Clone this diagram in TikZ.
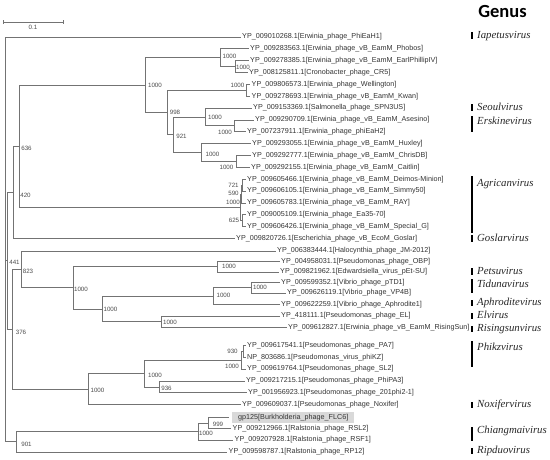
\documentclass[tikz,border=0pt]{standalone}
\usepackage{fontspec}
\setmainfont{Liberation Sans}
\newfontfamily\genusfont{Liberation Serif}
\newfontfamily\titlefont{Carlito}
\usetikzlibrary{arrows.meta}
\tikzset{
  branch/.style={draw=black!55, line width=0.75pt},
  leaf/.style={anchor=west, inner sep=1.5pt, text=black!80, font=\fontsize{7.2}{8}\selectfont},
  boot/.style={inner sep=0pt, text=black!70, font=\fontsize{6.2}{7}\selectfont},
  genusbar/.style={line width=2.8pt, draw=black},
  genuslabel/.style={anchor=mid west, inner sep=0pt, text=black!85, font=\genusfont\itshape\fontsize{10.8}{12}\selectfont},
}

\begin{document}
\begin{tikzpicture}[x=1pt, y=-1pt]
  \useasboundingbox (0,0) rectangle (550,459);

  % scale bar
  \coordinate (sbL) at (3.3,22);
  \coordinate (sbR) at (63.3,22);
  \draw[branch, {Bar[width=4pt]}-{Bar[width=4pt]}] (sbL) -- (sbR);
  \node[boot] (sblabel) at (33,27.5) {0.1};

  % leaves
  \node[leaf] (phieah1)    at (240.5,37)    {YP\_009010268.1[Erwinia\_phage\_PhiEaH1]};
  \node[leaf] (phobos)     at (248.5,48.8)  {YP\_009283563.1[Erwinia\_phage\_vB\_EamM\_Phobos]};
  \node[leaf] (earl)       at (248.5,60.7)  {YP\_009278385.1[Erwinia\_phage\_vB\_EamM\_EarlPhillipIV]};
  \node[leaf] (cr5)        at (247.5,72.5)  {YP\_008125811.1[Cronobacter\_phage\_CR5]};
  \node[leaf] (wellington) at (250,84.4)    {YP\_009806573.1[Erwinia\_phage\_Wellington]};
  \node[leaf] (kwan)       at (250,96.2)    {YP\_009278693.1[Erwinia\_phage\_vB\_EamM\_Kwan]};
  \node[leaf] (spn3us)     at (251.5,108.1) {YP\_009153369.1[Salmonella\_phage\_SPN3US]};
  \node[leaf] (asesino)    at (253.5,119.9) {YP\_009290709.1[Erwinia\_phage\_vB\_EamM\_Asesino]};
  \node[leaf] (phieah2)    at (245.5,131.8) {YP\_007237911.1[Erwinia\_phage\_phiEaH2]};
  \node[leaf] (huxley)     at (250.5,143.6) {YP\_009293055.1[Erwinia\_phage\_vB\_EamM\_Huxley]};
  \node[leaf] (chrisdb)    at (250.5,155.5) {YP\_009292777.1[Erwinia\_phage\_vB\_EamM\_ChrisDB]};
  \node[leaf] (caitlin)    at (249.5,167.3) {YP\_009292155.1[Erwinia\_phage\_vB\_EamM\_Caitlin]};
  \node[leaf] (deimos)     at (245.5,179.2) {YP\_009605466.1[Erwinia\_phage\_vB\_EamM\_Deimos-Minion]};
  \node[leaf] (simmy)      at (245.5,191.0) {YP\_009606105.1[Erwinia\_phage\_vB\_EamM\_Simmy50]};
  \node[leaf] (ray)        at (245.5,202.9) {YP\_009605783.1[Erwinia\_phage\_vB\_EamM\_RAY]};
  \node[leaf] (ea35)       at (245.5,214.7) {YP\_009005109.1[Erwinia\_phage\_Ea35-70]};
  \node[leaf] (specialg)   at (245.5,226.6) {YP\_009606426.1[Erwinia\_phage\_vB\_EamM\_Special\_G]};
  \node[leaf] (goslar)     at (234.5,238.5) {YP\_009820726.1[Escherichia\_phage\_vB\_EcoM\_Goslar]};
  \node[leaf] (halo)       at (275.5,251.0) {YP\_006383444.1[Halocynthia\_phage\_JM-2012]};
  \node[leaf] (obp)        at (279.5,261.5) {YP\_004958031.1[Pseudomonas\_phage\_OBP]};
  \node[leaf] (petsu)      at (278.5,272.0) {YP\_009821962.1[Edwardsiella\_virus\_pEt-SU]};
  \node[leaf] (ptd1)       at (279.5,282.5) {YP\_009599352.1[Vibrio\_phage\_pTD1]};
  \node[leaf] (vp4b)       at (285.5,293.0) {YP\_009626119.1[Vibrio\_phage\_VP4B]};
  \node[leaf] (aphrodite)  at (279.5,304.5) {YP\_009622259.1[Vibrio\_phage\_Aphrodite1]};
  \node[leaf] (el)         at (279.5,316.0) {YP\_418111.1[Pseudomonas\_phage\_EL]};
  \node[leaf] (risingsun)  at (286.5,327.5) {YP\_009612827.1[Erwinia\_phage\_vB\_EamM\_RisingSun]};
  \node[leaf] (pa7)        at (245.5,345.5) {YP\_009617541.1[Pseudomonas\_phage\_PA7]};
  \node[leaf] (phikz)      at (245.5,357.3) {NP\_803686.1[Pseudomonas\_virus\_phiKZ]};
  \node[leaf] (sl2)        at (245.5,369.1) {YP\_009619764.1[Pseudomonas\_phage\_SL2]};
  \node[leaf] (phipa3)     at (244.5,381.0) {YP\_009217215.1[Pseudomonas\_phage\_PhiPA3]};
  \node[leaf] (phi201)     at (246.5,392.8) {YP\_001956923.1[Pseudomonas\_phage\_201phi2-1]};
  \node[leaf] (noxifer)    at (240.5,404.6) {YP\_009609037.1[Pseudomonas\_phage\_Noxifer]};
  \coordinate (flc6tip) at (228.5,417.5);
  \node[leaf, fill=black!15, inner xsep=6pt, minimum height=11pt] (flc6) at (232,417.5) {gp125[Burkholderia\_phage\_FLC6]};
  \node[leaf] (rsl2)       at (231,428.3)   {YP\_009212966.1[Ralstonia\_phage\_RSL2]};
  \node[leaf] (rsf1)       at (233,440.1)   {YP\_009207928.1[Ralstonia\_phage\_RSF1]};
  \node[leaf] (rp12)       at (227,452.0)   {YP\_009598787.1[Ralstonia\_phage\_RP12]};

  % inner nodes
  \coordinate (root) at (5,239);
  \coordinate (n441) at (7.5,260.8);
  \coordinate (n420) at (13.5,192.35);
  \coordinate (n636) at (19,146.2);
  \coordinate (nA)   at (145,85.1);
  \coordinate (nPh)  at (220,57.7);
  \coordinate (nEC)  at (235,66.6);
  \coordinate (n998) at (167,112.5);
  \coordinate (nWK)  at (246,90.3);
  \coordinate (n921) at (173,134.75);
  \coordinate (nSA)  at (205,117.0);
  \coordinate (nAP)  at (234,125.85);
  \coordinate (nHC)  at (201,152.5);
  \coordinate (nCC)  at (236,161.4);
  \coordinate (nAg)  at (240.5,207.3);
  \coordinate (n590) at (241.5,194.0);
  \coordinate (n721) at (242.5,185.1);
  \coordinate (n625) at (242,220.65);
  \coordinate (n376) at (12,329.25);
  \coordinate (n823) at (21,269.4);
  \coordinate (nVC)  at (73,287.8);
  \coordinate (nOE)  at (217,266.75);
  \coordinate (nV2)  at (102,308.9);
  \coordinate (nVA)  at (213.5,296.1);
  \coordinate (npV)  at (251,287.75);
  \coordinate (nEL)  at (161,321.75);
  \coordinate (nPs)  at (88,389.1);
  \coordinate (nPK)  at (144.5,373.6);
  \coordinate (nPhK) at (241,360.25);
  \coordinate (n930) at (243,351.4);
  \coordinate (n936) at (159,386.9);
  \coordinate (n901) at (16,441.75);
  \coordinate (nRS)  at (198,431.5);
  \coordinate (n999) at (208.5,422.9);

  % branches
  \draw[branch] (root) |- (phieah1.west) (root) |- (n441) (root) |- (n901);
  \draw[branch] (n441) |- (n420) (n441) |- (n376);
  \draw[branch] (n420) |- (n636) (n420) |- (goslar.west);
  \draw[branch] (n636) |- (nA) (n636) |- (nAg);
  \draw[branch] (nA) |- (nPh) (nA) |- (n998);
  \draw[branch] (nPh) |- (phobos.west) (nPh) |- (nEC);
  \draw[branch] (nEC) |- (earl.west) (nEC) |- (cr5.west);
  \draw[branch] (n998) |- (nWK) (n998) |- (n921);
  \draw[branch] (nWK) |- (wellington.west) (nWK) |- (kwan.west);
  \draw[branch] (n921) |- (nSA) (n921) |- (nHC);
  \draw[branch] (nSA) |- (spn3us.west) (nSA) |- (nAP);
  \draw[branch] (nAP) |- (asesino.west) (nAP) |- (phieah2.west);
  \draw[branch] (nHC) |- (huxley.west) (nHC) |- (nCC);
  \draw[branch] (nCC) |- (chrisdb.west) (nCC) |- (caitlin.west);
  \draw[branch] (nAg) |- (n590) (nAg) |- (n625);
  \draw[branch] (n590) |- (n721) (n590) |- (ray.west);
  \draw[branch] (n721) |- (deimos.west) (n721) |- (simmy.west);
  \draw[branch] (n625) |- (ea35.west) (n625) |- (specialg.west);
  \draw[branch] (n376) |- (n823) (n376) |- (nPs);
  \draw[branch] (n823) |- (halo.west) (n823) |- (nVC);
  \draw[branch] (nVC) |- (nOE) (nVC) |- (nV2);
  \draw[branch] (nOE) |- (obp.west) (nOE) |- (petsu.west);
  \draw[branch] (nV2) |- (nVA) (nV2) |- (nEL);
  \draw[branch] (nVA) |- (npV) (nVA) |- (aphrodite.west);
  \draw[branch] (npV) |- (ptd1.west) (npV) |- (vp4b.west);
  \draw[branch] (nEL) |- (el.west) (nEL) |- (risingsun.west);
  \draw[branch] (nPs) |- (nPK) (nPs) |- (noxifer.west);
  \draw[branch] (nPK) |- (nPhK) (nPK) |- (n936);
  \draw[branch] (nPhK) |- (n930) (nPhK) |- (sl2.west);
  \draw[branch] (n930) |- (pa7.west) (n930) |- (phikz.west);
  \draw[branch] (n936) |- (phipa3.west) (n936) |- (phi201.west);
  \draw[branch] (n901) |- (nRS) (n901) |- (rp12.west);
  \draw[branch] (nRS) |- (n999) (nRS) |- (rsf1.west);
  \draw[branch] (n999) |- (flc6tip) (n999) |- (rsl2.west);

  % bootstrap values
  \node[boot] (b441) at (14.5,262)   {441};
  \node[boot] (b420) at (25.5,195)   {420};
  \node[boot] (b636) at (26.5,148)   {636};
  \node[boot] (bA)   at (155,85)     {1000};
  \node[boot] (bPh)  at (229.5,56.5) {1000};
  \node[boot] (bEC)  at (243,67.5)   {1000};
  \node[boot] (bWK)  at (237.5,85)   {1000};
  \node[boot] (b998) at (175,112.5)  {998};
  \node[boot] (b921) at (181.5,136)  {921};
  \node[boot] (bSA)  at (215,117.5)  {1000};
  \node[boot] (bAP)  at (225,132)    {1000};
  \node[boot] (bHC)  at (212.5,154)  {1000};
  \node[boot] (bCC)  at (226.5,167)  {1000};
  \node[boot] (b721) at (233.5,185.1) {721};
  \node[boot] (b590) at (233.5,193.5) {590};
  \node[boot] (bAg)  at (233,202.5)  {1000};
  \node[boot] (b625) at (234,220.5)  {625};
  \node[boot] (b823) at (28,271)     {823};
  \node[boot] (b376) at (21,332)     {376};
  \node[boot] (bVC)  at (81,289.5)   {1000};
  \node[boot] (bOE)  at (229,266.5)  {1000};
  \node[boot] (bV2)  at (110.5,309.5) {1000};
  \node[boot] (bVA)  at (223.5,295)  {1000};
  \node[boot] (bpV)  at (260,287.5)  {1000};
  \node[boot] (bEL)  at (170,322.5)  {1000};
  \node[boot] (bPs)  at (97.5,390)   {1000};
  \node[boot] (bPK)  at (155,375.5)  {1000};
  \node[boot] (b930) at (232.5,351.5) {930};
  \node[boot] (bPhK) at (232,366)    {1000};
  \node[boot] (b936) at (166.5,388.5) {936};
  \node[boot] (b901) at (26.5,444)   {901};
  \node[boot] (bRS)  at (206,433.5)  {1000};
  \node[boot] (b999) at (218,424)    {999};

  % genus column
  \node[font=\titlefont\bfseries\fontsize{18.5}{20}\selectfont, anchor=base, inner sep=0pt] (genus) at (502.5,17) {Genus};
  \draw[genusbar] (472,32) -- (472,39);
  \node[genuslabel] (iapetus) at (477,36) {Iapetusvirus};
  \draw[genusbar] (472,104) -- (472,111);
  \node[genuslabel] (seoul) at (477,108) {Seoulvirus};
  \draw[genusbar] (472,116) -- (472,132);
  \node[genuslabel] (erskine) at (477,122) {Erskinevirus};
  \draw[genusbar] (472,176) -- (472,233);
  \node[genuslabel] (agrican) at (477,184) {Agricanvirus};
  \draw[genusbar] (472,235) -- (472,241.5);
  \node[genuslabel] (goslarv) at (477,238.5) {Goslarvirus};
  \draw[genusbar] (472,268) -- (472,275);
  \node[genuslabel] (petsuv) at (477,272) {Petsuvirus};
  \draw[genusbar] (472,279) -- (472,293);
  \node[genuslabel] (tiduna) at (477,284.5) {Tidunavirus};
  \draw[genusbar] (472,300) -- (472,306);
  \node[genuslabel] (aphroditev) at (477,303) {Aphroditevirus};
  \draw[genusbar] (472,313) -- (472,318.5);
  \node[genuslabel] (elv) at (477,316) {Elvirus};
  \draw[genusbar] (472,326) -- (472,332);
  \node[genuslabel] (risingsunv) at (477,329) {Risingsunvirus};
  \draw[genusbar] (472,341) -- (472,367);
  \node[genuslabel] (phikzv) at (477,348) {Phikzvirus};
  \draw[genusbar] (472,402) -- (472,408);
  \node[genuslabel] (noxiferv) at (477,404.5) {Noxifervirus};
  \draw[genusbar] (472,427) -- (472,441);
  \node[genuslabel] (chiangmai) at (477,431) {Chiangmaivirus};
  \draw[genusbar] (472,448) -- (472,454);
  \node[genuslabel] (ripduo) at (477,450.5) {Ripduovirus};
\end{tikzpicture}
\end{document}
